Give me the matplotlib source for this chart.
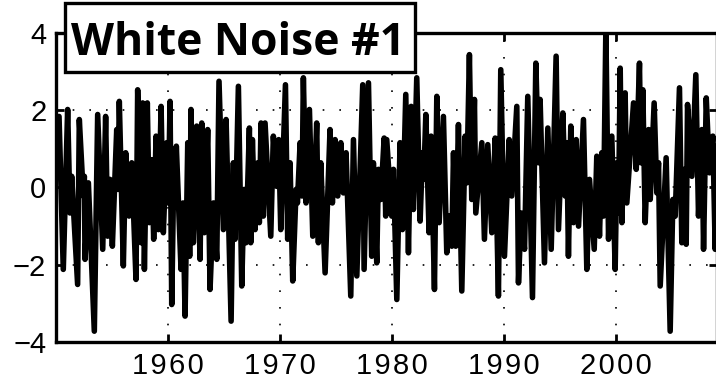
import numpy as np
import matplotlib
matplotlib.use("Agg")
from matplotlib import pyplot as plt
from matplotlib.patches import Rectangle

# peaks and troughs of the noise series (decimal year, value)
years = [1950.27, 1950.65, 1951.04, 1951.25, 1951.40, 1951.93, 1952.08, 1952.44, 1952.53, 1952.59,
         1952.89, 1953.42, 1953.72, 1954.17, 1954.43, 1954.61, 1954.82, 1955.03, 1955.42, 1955.54,
         1955.65, 1956.01, 1956.22, 1956.52, 1956.76, 1957.14, 1957.29, 1957.59, 1957.74, 1957.89,
         1958.15, 1958.33, 1958.54, 1958.72, 1958.93, 1959.14, 1959.38, 1959.58, 1959.88, 1960.03,
         1960.18, 1960.33, 1960.51, 1960.63, 1960.74, 1961.16, 1961.34, 1961.52, 1961.76, 1961.93,
         1962.05, 1962.26, 1962.56, 1962.86, 1963.01, 1963.24, 1963.54, 1963.75, 1964.05, 1964.35,
         1964.55, 1964.94, 1965.18, 1965.63, 1965.83, 1965.98, 1966.28, 1966.58, 1966.79, 1966.96,
         1967.26, 1967.38, 1967.53, 1967.77, 1968.01, 1968.15, 1968.30, 1968.51, 1968.66, 1969.17,
         1969.40, 1969.70, 1969.88, 1970.06, 1970.48, 1970.68, 1970.89, 1971.13, 1971.43, 1971.55,
         1971.79, 1971.96, 1972.08, 1972.32, 1972.62, 1972.92, 1973.27, 1973.42, 1973.63, 1974.02,
         1974.46, 1974.67, 1974.91, 1975.15, 1975.42, 1975.65, 1975.89, 1976.31, 1976.55, 1976.85,
         1977.38, 1977.50, 1977.89, 1978.18, 1978.33, 1978.63, 1978.78, 1978.99, 1979.29, 1979.43,
         1979.52, 1979.97, 1980.12, 1980.42, 1980.71, 1980.92, 1981.22, 1981.46, 1981.70, 1981.90,
         1982.20, 1982.50, 1982.71, 1982.83, 1983.01, 1983.30, 1983.48, 1983.78, 1983.99, 1984.20,
         1984.58, 1984.88, 1985.12, 1985.33, 1985.48, 1985.68, 1985.92, 1986.22, 1986.52, 1986.67,
         1986.90, 1987.11, 1987.35, 1987.47, 1988.01, 1988.24, 1988.54, 1988.90, 1989.20, 1989.49,
         1989.70, 1990.03, 1990.45, 1990.68, 1991.13, 1991.28, 1991.52, 1991.82, 1992.11, 1992.53,
         1992.83, 1993.07, 1993.21, 1993.60, 1993.90, 1994.20, 1994.64, 1994.85, 1995.24, 1995.45,
         1995.60, 1995.74, 1995.95, 1996.19, 1996.43, 1996.64, 1997.08, 1997.38, 1997.62, 1998.04,
         1998.27, 1998.51, 1998.72, 1998.87, 1999.08, 1999.32, 1999.61, 1999.91, 2000.06, 2000.21,
         2000.36, 2000.51, 2000.80, 2000.95, 2001.55, 2001.79, 2002.08, 2002.20, 2002.38, 2002.59,
         2002.89, 2003.04, 2003.39, 2003.63, 2003.78, 2003.93, 2004.46, 2004.82, 2005.06, 2005.27,
         2005.65, 2005.86, 2006.07, 2006.25, 2006.37, 2006.76, 2007.11, 2007.35, 2007.65, 2007.80,
         2008.04, 2008.33, 2008.63, 2008.84, 2008.99]
noise = [1.84, -2.12, 2.02, -0.66, 0.29, -2.51, 1.76, -0.22, 0.29, -1.86,
         0.12, -3.72, 1.89, -1.60, 1.84, -1.26, 0.21, -1.52, 1.50, -0.05,
         2.23, -2.03, 0.90, -0.74, 0.64, -2.38, 2.53, -1.43, 2.19, -2.12,
         2.19, -0.91, 0.72, -1.34, 1.33, -1.09, 2.10, -1.17, 1.16, -0.40,
         2.23, -3.03, 0.38, -0.40, 1.07, -2.12, -0.40, -3.33, 1.16, -1.78,
         2.02, -1.43, 1.59, -1.86, 1.67, -1.17, 1.50, -2.64, -0.40, -1.86,
         2.75, -1.09, 1.76, -3.46, 0.64, -1.34, 2.62, -2.55, -0.05, -1.43,
         1.54, -1.43, 1.24, -1.09, 0.64, -0.91, 1.67, -0.74, 1.67, -1.26,
         1.33, 0.03, 1.24, -1.09, 2.66, -1.34, 0.64, -2.42, -0.05, -0.40,
         1.16, -0.22, 2.84, -0.40, 2.02, -1.26, 1.67, -1.43, 0.64, -2.21,
         1.50, -0.40, 1.24, -0.22, 1.16, -0.14, 0.90, -2.81, 1.24, -2.29,
         2.66, -2.12, 2.71, -1.78, 0.64, -1.95, 0.47, -0.31, 1.28, -0.74,
         1.24, -0.74, 0.47, -2.90, 1.16, -1.09, 2.41, -1.69, 2.10, -0.57,
         2.84, -0.87, 0.90, 0.21, 1.89, -1.17, 1.33, -2.64, 2.36, -0.91,
         1.84, -1.69, -0.74, -1.52, 0.90, -1.52, 1.63, -2.68, 1.33, 0.12,
         3.44, -0.31, 2.28, -0.66, 1.16, -1.34, 1.11, -1.17, 1.28, -2.81,
         3.05, -1.78, 1.24, -0.22, 2.10, -2.47, -0.66, -1.60, 2.36, -2.85,
         3.22, 0.64, 2.28, -1.95, 1.54, -1.60, 3.40, -1.09, 1.93, -0.22,
         1.16, -1.78, 1.59, -0.91, 1.24, -1.00, 1.76, -2.12, 0.21, -1.60,
         0.81, -1.26, 0.90, -0.74, 4.10, -1.34, 1.33, -2.12, 0.64, -0.66,
         3.09, -0.91, 2.45, -0.40, 2.19, 0.47, 3.22, 0.64, 2.53, -0.91,
         1.50, -0.31, 2.19, -0.14, 0.64, -2.55, 0.77, -3.72, -0.31, -0.74,
         2.58, -1.43, 0.47, -1.47, 2.15, 0.29, 2.92, -0.74, 1.50, -1.60,
         2.32, 0.38, 1.33, -1.60, 1.07]

xticks = [1960, 1970, 1980, 1990, 2000]
yticks = [-4, -2, 0, 2, 4]
title = "White Noise #1"

W, H = 716, 385
fig = plt.figure(figsize=(W / 100, H / 100), dpi=100)
ax = fig.add_axes([56 / W, (H - 342) / H, 661 / W, 309 / H])

ax.plot(years, noise, color="black", lw=4.0, solid_joinstyle="round",
        solid_capstyle="round", zorder=3)

ax.set_xlim(1950, 2009)
ax.set_ylim(-4, 4)
ax.set_xticks(xticks)
ax.set_yticks(yticks)
# year labels are loosely tracked with hair spaces
ax.set_xticklabels(["\u200a".join(str(t)) for t in xticks])
ax.set_yticklabels([str(t).replace("-", "\u2212") for t in yticks])
ax.grid(True, color="black", linestyle=(0, (1, 9)), linewidth=1.2, zorder=1)
ax.tick_params(direction="in", top=True, right=True, length=6, width=2,
               labelsize=21, pad=7)
for lab in ax.get_xticklabels() + ax.get_yticklabels():
    lab.set_family(["Liberation Sans", "DejaVu Sans"])
for s in ax.spines.values():
    s.set_linewidth(2.4)
    s.set_zorder(4)

# boxed title sitting across the top of the axes
fig.add_artist(Rectangle((65 / W, (H - 72) / H), 350 / W, 69 / H,
                         transform=fig.transFigure, facecolor="white",
                         edgecolor="black", linewidth=2.4, zorder=5))
fig.text(238 / W, (H - 55) / H, title, ha="center", va="baseline",
         fontsize=32, fontweight="bold", family="Open Sans", zorder=6)

fig.savefig("out.png", dpi=100)
